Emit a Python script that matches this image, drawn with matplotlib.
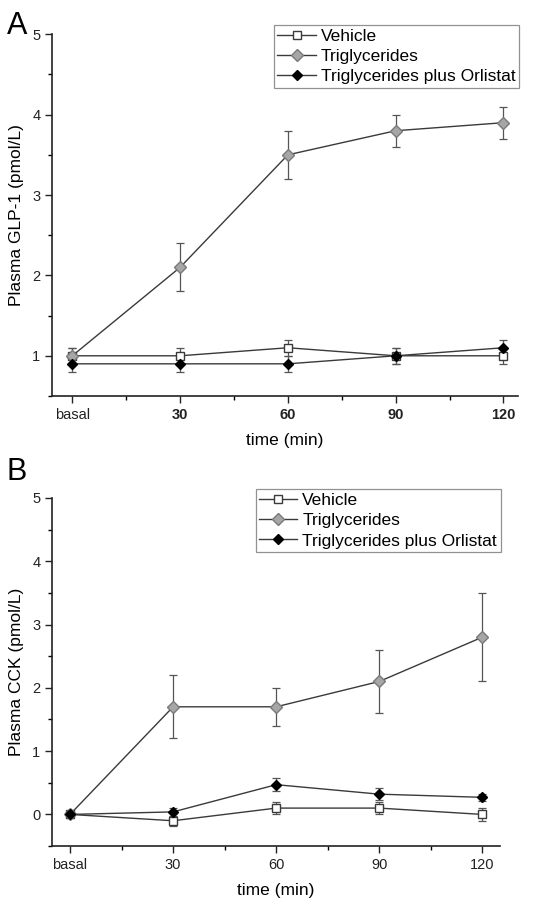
import numpy as np
import matplotlib.pyplot as plt
from matplotlib.ticker import MultipleLocator

plt.rcParams['font.family'] = ['Liberation Sans', 'DejaVu Sans']

# time points (basal = 0)
times = [0, 30, 60, 90, 120]
xtick_labels = ["basal", "30", "60", "90", "120"]

# Panel A: GLP-1
glp_vehicle = [1.0, 1.0, 1.1, 1.0, 1.0]
glp_vehicle_err = [0.1, 0.1, 0.1, 0.1, 0.1]
glp_tg = [1.0, 2.1, 3.5, 3.8, 3.9]
glp_tg_err = [0.1, 0.3, 0.3, 0.2, 0.2]
glp_orl = [0.9, 0.9, 0.9, 1.0, 1.1]
glp_orl_err = [0.1, 0.1, 0.1, 0.1, 0.1]

# Panel B: CCK
cck_vehicle = [0.0, -0.1, 0.1, 0.1, 0.0]
cck_vehicle_err = [0.05, 0.08, 0.1, 0.1, 0.1]
cck_tg = [0.0, 1.7, 1.7, 2.1, 2.8]
cck_tg_err = [0.0, 0.5, 0.3, 0.5, 0.7]
cck_orl = [0.0, 0.04, 0.47, 0.32, 0.27]
cck_orl_err = [0.03, 0.06, 0.1, 0.1, 0.06]

labels = ["Vehicle", "Triglycerides", "Triglycerides plus Orlistat"]
line_col = "#3a3a3a"

fig = plt.figure(figsize=(5.55, 9.02), dpi=100)
axA = fig.add_axes([0.094, 0.561, 0.839, 0.401])
axB = fig.add_axes([0.094, 0.062, 0.806, 0.386])


def draw(ax, vals, errs, ylim, ylabel, bold_ticks, xlim):
    styles = [
        dict(marker="s", mfc="white", mec=line_col, ms=6),
        dict(marker="D", mfc="#a6a6a6", mec="#7a7a7a", ms=6.5),
        dict(marker="D", mfc="black", mec="black", ms=5.5),
    ]
    handles = []
    for v, e, lab, st in zip(vals, errs, labels, styles):
        c = ax.errorbar(times, v, yerr=e, color=line_col, lw=1, elinewidth=0.9,
                        capsize=3, capthick=0.9, ecolor="#555555", label=lab, **st)
        handles.append(c[0])
    ax.set_xlim(*xlim)
    ax.set_ylim(*ylim)
    ax.set_xticks(times)
    ax.set_xticklabels(xtick_labels)
    if bold_ticks:
        for t in ax.get_xticklabels()[1:]:
            t.set_fontweight("bold")
    ax.xaxis.set_minor_locator(MultipleLocator(15))
    ax.yaxis.set_major_locator(MultipleLocator(1))
    ax.yaxis.set_minor_locator(MultipleLocator(0.5))
    ax.spines["top"].set_visible(False)
    ax.spines["right"].set_visible(False)
    for s in ["left", "bottom"]:
        ax.spines[s].set_linewidth(1.2)
        ax.spines[s].set_color("#222222")
    ax.tick_params(which="major", length=5, width=1, direction="out",
                   labelsize=10.5, colors="#222222")
    ax.tick_params(which="minor", length=3, width=1, direction="out")
    ax.set_xlabel("time (min)", fontsize=12.5, labelpad=8)
    ax.set_ylabel(ylabel, fontsize=12.5, labelpad=6)
    leg = ax.legend(handles=handles, labels=labels, loc="upper right",
                    bbox_to_anchor=(1.01, 1.035), fontsize=12.5,
                    frameon=True, fancybox=False, edgecolor="#777777",
                    handlelength=2.2, handletextpad=0.3, borderpad=0.2,
                    labelspacing=0.3, borderaxespad=0.2)
    leg.get_frame().set_linewidth(0.9)


draw(axA, [glp_vehicle, glp_tg, glp_orl], [glp_vehicle_err, glp_tg_err, glp_orl_err],
     (0.5, 5), "Plasma GLP-1 (pmol/L)", True, (-5.6, 124))
draw(axB, [cck_vehicle, cck_tg, cck_orl], [cck_vehicle_err, cck_tg_err, cck_orl_err],
     (-0.5, 5), "Plasma CCK (pmol/L)", False, (-5.2, 125))

fig.text(0.012, 0.962, "A", fontsize=22)
fig.text(0.012, 0.468, "B", fontsize=22)

fig.savefig("out.png", dpi=100)
